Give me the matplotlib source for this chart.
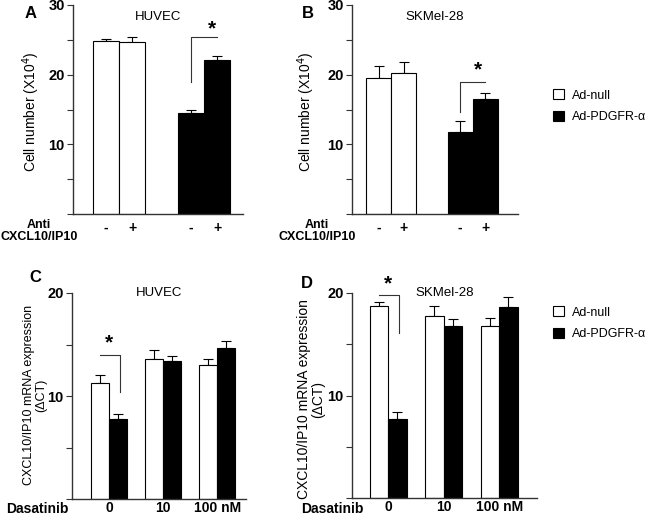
import numpy as np
import matplotlib
matplotlib.use("Agg")
import matplotlib.pyplot as plt
from matplotlib.patches import Patch
from matplotlib.ticker import MultipleLocator

plt.rcParams["font.family"] = ["Liberation Sans", "DejaVu Sans"]

# Panel A / B: cell number (x10^4)
anti_labels = ["-", "+"]
huvec_null = [24.9, 24.7]
huvec_null_err = [0.2, 0.7]
huvec_pdgfr = [14.5, 22.1]
huvec_pdgfr_err = [0.5, 0.6]

skmel_null = [19.5, 20.3]
skmel_null_err = [1.8, 1.5]
skmel_pdgfr = [11.7, 16.5]
skmel_pdgfr_err = [1.6, 0.8]

# Panel C / D: CXCL10/IP10 mRNA expression (dCT)
dasatinib_labels = ["0", "10", "100 nM"]
huvec_mrna_null = [11.3, 13.6, 13.0]
huvec_mrna_null_err = [0.7, 0.9, 0.6]
huvec_mrna_pdgfr = [7.8, 13.4, 14.7]
huvec_mrna_pdgfr_err = [0.5, 0.5, 0.6]

skmel_mrna_null = [18.7, 17.8, 16.8]
skmel_mrna_null_err = [0.4, 0.9, 0.8]
skmel_mrna_pdgfr = [7.7, 16.8, 18.6]
skmel_mrna_pdgfr_err = [0.7, 0.7, 1.0]

W, H = 650, 516
fig = plt.figure(figsize=(W / 100, H / 100), dpi=100)


def px_axes(x0, y0, x1, y1):
    # pixel box (top-left origin) -> figure axes
    return fig.add_axes([x0 / W, 1 - y1 / H, (x1 - x0) / W, (y1 - y0) / H])


def style(ax, ymax, major, minor, xpad):
    for s in ["top", "right"]:
        ax.spines[s].set_visible(False)
    for s in ["left", "bottom"]:
        ax.spines[s].set_linewidth(1.0)
        ax.spines[s].set_color("#333333")
    ax.set_ylim(0, ymax)
    ax.yaxis.set_major_locator(MultipleLocator(major))
    ax.yaxis.set_minor_locator(MultipleLocator(minor))
    ax.set_yticks([t for t in np.arange(major, ymax + 0.1, major)])
    ax.tick_params(axis="y", which="both", direction="out", length=4,
                   width=0.8, color="#333333", labelsize=10.5, pad=2)
    ax.tick_params(axis="x", length=0, labelsize=10, pad=xpad)
    for lab in ax.get_yticklabels() + ax.get_xticklabels():
        lab.set_fontweight("bold")


def bars(ax, x, vals, errs, color):
    ax.bar(x, vals, width=1.0, color=color, edgecolor="black", linewidth=0.8,
           zorder=2)
    ax.errorbar(x, vals, yerr=[np.zeros(len(errs)), errs], fmt="none",
                ecolor="black", elinewidth=0.8, capsize=3.5, capthick=0.8,
                zorder=1)


def bracket(ax, x1, x2, ytop, yleft=None, yright=None, star_x=None, star_y=None):
    xs, ys = [], []
    if yleft is not None:
        xs += [x1]
        ys += [yleft]
    xs += [x1, x2]
    ys += [ytop, ytop]
    if yright is not None:
        xs += [x2]
        ys += [yright]
    ax.plot(xs, ys, color="#333333", lw=0.8, clip_on=False)
    ax.text(star_x, star_y, "*", ha="center", va="center", fontsize=15,
            fontweight="bold", clip_on=False)


# ---- A ----
axA = px_axes(73, 5, 243, 214)
pos_null = np.array([0, 1])
pos_pdgfr = np.array([3.27, 4.27])
bars(axA, pos_null, huvec_null, huvec_null_err, "white")
bars(axA, pos_pdgfr, huvec_pdgfr, huvec_pdgfr_err, "black")
axA.set_xlim(-1.27, 5.27)
style(axA, 30, 10, 5, 5)
axA.set_xticks(np.concatenate([pos_null, pos_pdgfr]))
axA.set_xticklabels(anti_labels * 2, fontweight="bold")
bracket(axA, pos_pdgfr[0], pos_pdgfr[1], 25.4, yleft=19.0,
        star_x=pos_pdgfr[1] - 0.2, star_y=26.6)
axA.set_title("HUVEC", fontsize=9.5, pad=-11, y=1.0)

# ---- B ----
axB = px_axes(352, 5, 518, 214)
bars(axB, pos_null, skmel_null, skmel_null_err, "white")
bars(axB, pos_pdgfr, skmel_pdgfr, skmel_pdgfr_err, "black")
axB.set_xlim(-1.06, 5.58)
style(axB, 30, 10, 5, 5)
axB.set_xticks(np.concatenate([pos_null, pos_pdgfr]))
axB.set_xticklabels(anti_labels * 2, fontweight="bold")
bracket(axB, pos_pdgfr[0], pos_pdgfr[1], 18.9, yleft=14.6,
        star_x=pos_pdgfr[1] - 0.3, star_y=20.7)
axB.set_title("SKMel-28", fontsize=9.5, pad=-11, y=1.0)

for xc in [39, 317]:
    fig.text(xc / W, 1 - 231 / H, "Anti\nCXCL10/IP10", ha="center",
             va="center", fontsize=9, fontweight="bold", linespacing=1.05)
for xc in [31, 306]:
    fig.text(xc / W, 1 - 112 / H, "Cell number (X10$^4$)", rotation=90,
             ha="center", va="center", fontsize=10)

# ---- C ----
grp = np.array([0, 3, 6])
axC = px_axes(72, 293, 246, 499)
bars(axC, grp - 0.5, huvec_mrna_null, huvec_mrna_null_err, "white")
bars(axC, grp + 0.5, huvec_mrna_pdgfr, huvec_mrna_pdgfr_err, "black")
axC.set_xlim(-2.07, 7.6)
style(axC, 20, 10, 5, 1.5)
axC.set_xticks(grp)
axC.set_xticklabels(dasatinib_labels, fontweight="bold")
bracket(axC, grp[0] - 0.5, grp[0] + 0.6, 14.0, yright=10.4,
        star_x=grp[0], star_y=15.2)
axC.set_title("HUVEC", fontsize=9.5, pad=-2, y=1.0)

# ---- D ----
axD = px_axes(352, 293, 537, 498)
bars(axD, grp - 0.5, skmel_mrna_null, skmel_mrna_null_err, "white")
bars(axD, grp + 0.5, skmel_mrna_pdgfr, skmel_mrna_pdgfr_err, "black")
axD.set_xlim(-1.95, 8.05)
style(axD, 20, 10, 5, 1.5)
axD.set_xticks(grp)
axD.set_xticklabels(dasatinib_labels, fontweight="bold")
bracket(axD, grp[0] - 0.5, grp[0] + 0.6, 19.8, yright=16.1,
        star_x=grp[0], star_y=20.9)
axD.set_title("SKMel-28", fontsize=9.5, pad=-2, y=1.0)

for xc in [37, 332]:
    fig.text(xc / W, 1 - 509 / H, "Dasatinib", ha="center", va="center",
             fontsize=10, fontweight="bold")
for xc, yc, fs in [(35, 395, 9), (311, 399, 10)]:
    fig.text(xc / W, 1 - yc / H, "CXCL10/IP10 mRNA expression\n(\u0394CT)",
             rotation=90, ha="center", va="center", fontsize=fs,
             linespacing=1.05)

# panel letters
for lab, x, y in [("A", 31, 13), ("B", 308, 13), ("C", 35, 278), ("D", 307, 284)]:
    fig.text(x / W, 1 - y / H, lab, ha="center", va="center", fontsize=12,
             fontweight="bold")

# legends
handles = [Patch(facecolor="white", edgecolor="black", linewidth=0.8),
           Patch(facecolor="black", edgecolor="black", linewidth=0.8)]
labels = ["Ad-null", "Ad-PDGFR-\u03b1"]
for ytop in [84, 301]:
    fig.legend(handles, labels, loc="upper left",
               bbox_to_anchor=(548 / W, 1 - ytop / H), frameon=False,
               fontsize=9, handlelength=0.9, handleheight=0.9,
               handletextpad=0.6, labelspacing=0.75, borderaxespad=0)

fig.savefig("out.png", dpi=100)
